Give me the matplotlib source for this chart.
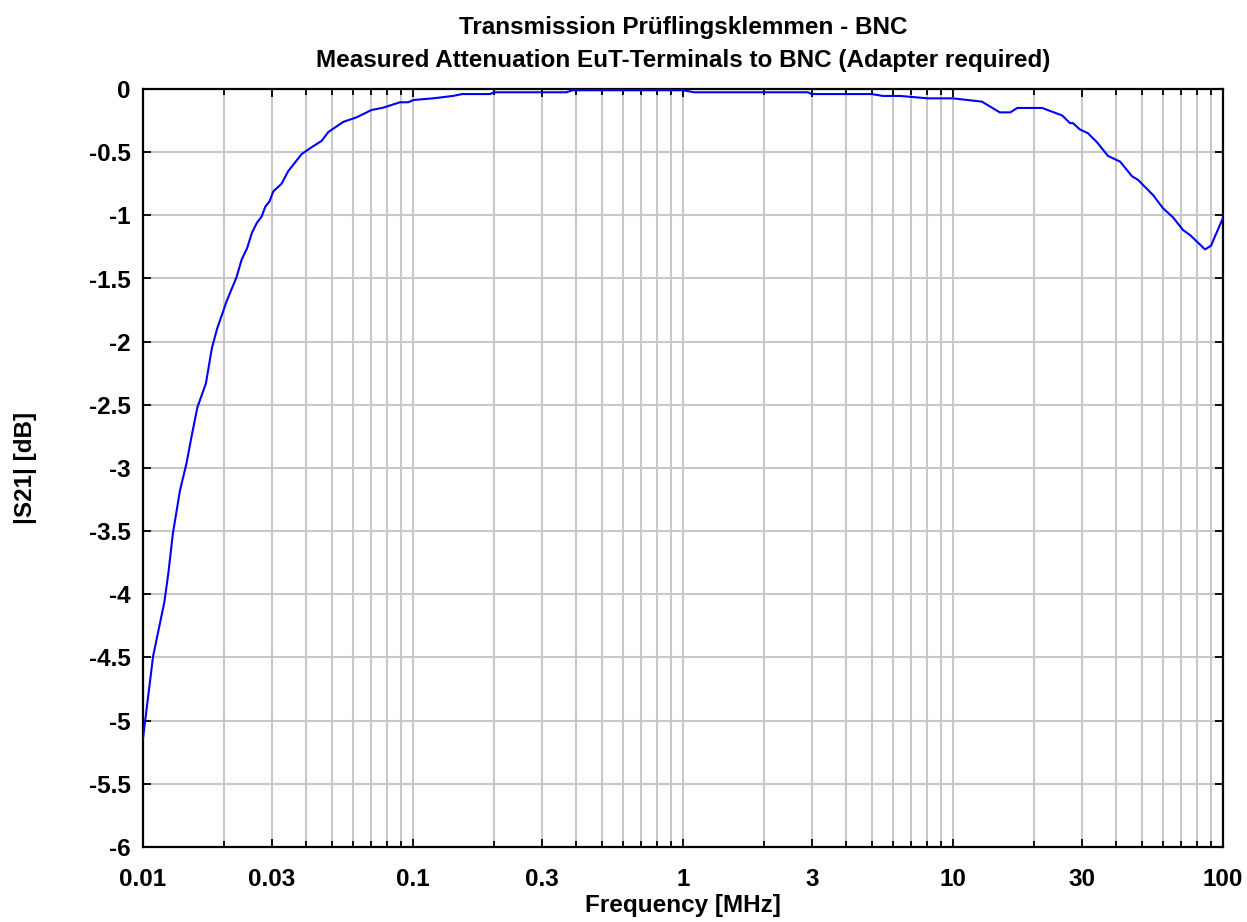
import matplotlib
matplotlib.use("Agg")
import matplotlib.pyplot as plt
from matplotlib.ticker import FixedLocator, NullFormatter

plt.rcParams['font.family'] = ['Liberation Sans', 'DejaVu Sans']
plt.rcParams['font.weight'] = 'bold'

freq_mhz = [0.01, 0.0109, 0.0120, 0.0124, 0.0129, 0.0137, 0.0145, 0.0151, 0.0159,
            0.0171, 0.0180, 0.0188, 0.0204, 0.0222, 0.0232, 0.0243, 0.0253, 0.0264,
            0.0275, 0.0284, 0.0294, 0.0304, 0.0326, 0.0345, 0.0387, 0.0415, 0.0459,
            0.0486, 0.0552, 0.0619, 0.0702, 0.0775, 0.0895, 0.0961, 0.1005, 0.1186,
            0.1406, 0.152, 0.193, 0.2, 0.37, 0.39, 1.0, 1.1, 2.9, 3.0, 5.0, 5.5,
            6.37, 8.08, 10.0, 12.8, 14.9, 16.3, 17.3, 21.4, 25.4, 27.1, 27.8, 29.5,
            31.6, 34.1, 37.5, 41.6, 46.0, 48.5, 55.1, 60.0, 65.3, 71.1, 75.5, 85.8,
            90.3, 95.0, 100.0]
s21_db = [-5.14, -4.49, -4.06, -3.84, -3.52, -3.18, -2.96, -2.76, -2.52,
          -2.33, -2.05, -1.90, -1.68, -1.49, -1.35, -1.26, -1.14, -1.06,
          -1.01, -0.93, -0.89, -0.81, -0.75, -0.65, -0.515, -0.47, -0.41,
          -0.34, -0.26, -0.224, -0.166, -0.148, -0.105, -0.105, -0.087, -0.074,
          -0.055, -0.04, -0.04, -0.026, -0.026, -0.01, -0.01, -0.026, -0.026, -0.04, -0.04, -0.055,
          -0.055, -0.074, -0.074, -0.10, -0.185, -0.185, -0.15, -0.15, -0.21, -0.27, -0.27, -0.32,
          -0.35, -0.42, -0.53, -0.575, -0.69, -0.72, -0.84, -0.945, -1.016, -1.116, -1.156, -1.27,
          -1.24, -1.13, -1.02]

xtick_vals = [0.01, 0.03, 0.1, 0.3, 1, 3, 10, 30, 100]
xtick_labels = ['0.01', '0.03', '0.1', '0.3', '1', '3', '10', '30', '100']
ytick_vals = [0, -0.5, -1, -1.5, -2, -2.5, -3, -3.5, -4, -4.5, -5, -5.5, -6]
ytick_labels = ['0', '-0.5', '-1', '-1.5', '-2', '-2.5', '-3', '-3.5', '-4', '-4.5', '-5', '-5.5', '-6']

FS = 17.5

fig = plt.figure(figsize=(12.47, 9.22), dpi=100)
ax = fig.add_axes([143/1247, 1-847/922, (1223-143)/1247, (847-89)/922])

ax.plot(freq_mhz, s21_db, color='#0000ff', lw=1.5, zorder=3)
ax.set_xscale('log')
ax.set_xlim(0.01, 100)
ax.set_ylim(-6, 0)

minor = [m * 10.0**e for e in range(-2, 2) for m in range(2, 10) if m != 3]
ax.xaxis.set_major_locator(FixedLocator(xtick_vals))
ax.set_xticklabels(xtick_labels)
ax.xaxis.set_minor_locator(FixedLocator(minor))
ax.xaxis.set_minor_formatter(NullFormatter())
ax.set_yticks(ytick_vals)
ax.set_yticklabels(ytick_labels)

ax.grid(True, which='both', color='#c8c8c8', lw=1.5, zorder=0)
ax.set_axisbelow(True)
ax.tick_params(which='both', direction='in', top=True, right=True, labelsize=FS, width=1.3, color='black')
ax.tick_params(which='major', length=6)
ax.tick_params(which='minor', length=4)
ax.tick_params(axis='x', which='major', pad=15)
ax.tick_params(axis='y', which='major', pad=9)
for lbl in ax.get_xticklabels() + ax.get_yticklabels():
    lbl.set_fontweight('bold')
for sp in ax.spines.values():
    sp.set_linewidth(1.6)

ax.set_xlabel('Frequency [MHz]', fontsize=FS, fontweight='bold', labelpad=2)
ax.yaxis.set_label_coords(-106/1080, 0.5)
ax.set_ylabel('|S21| [dB]', fontsize=FS, fontweight='bold')
ax.set_title('Transmission Prüflingsklemmen - BNC\nMeasured Attenuation EuT-Terminals to BNC (Adapter required)',
             fontsize=FS, fontweight='bold', pad=16, linespacing=1.55)

fig.savefig('out.png', dpi=100)
